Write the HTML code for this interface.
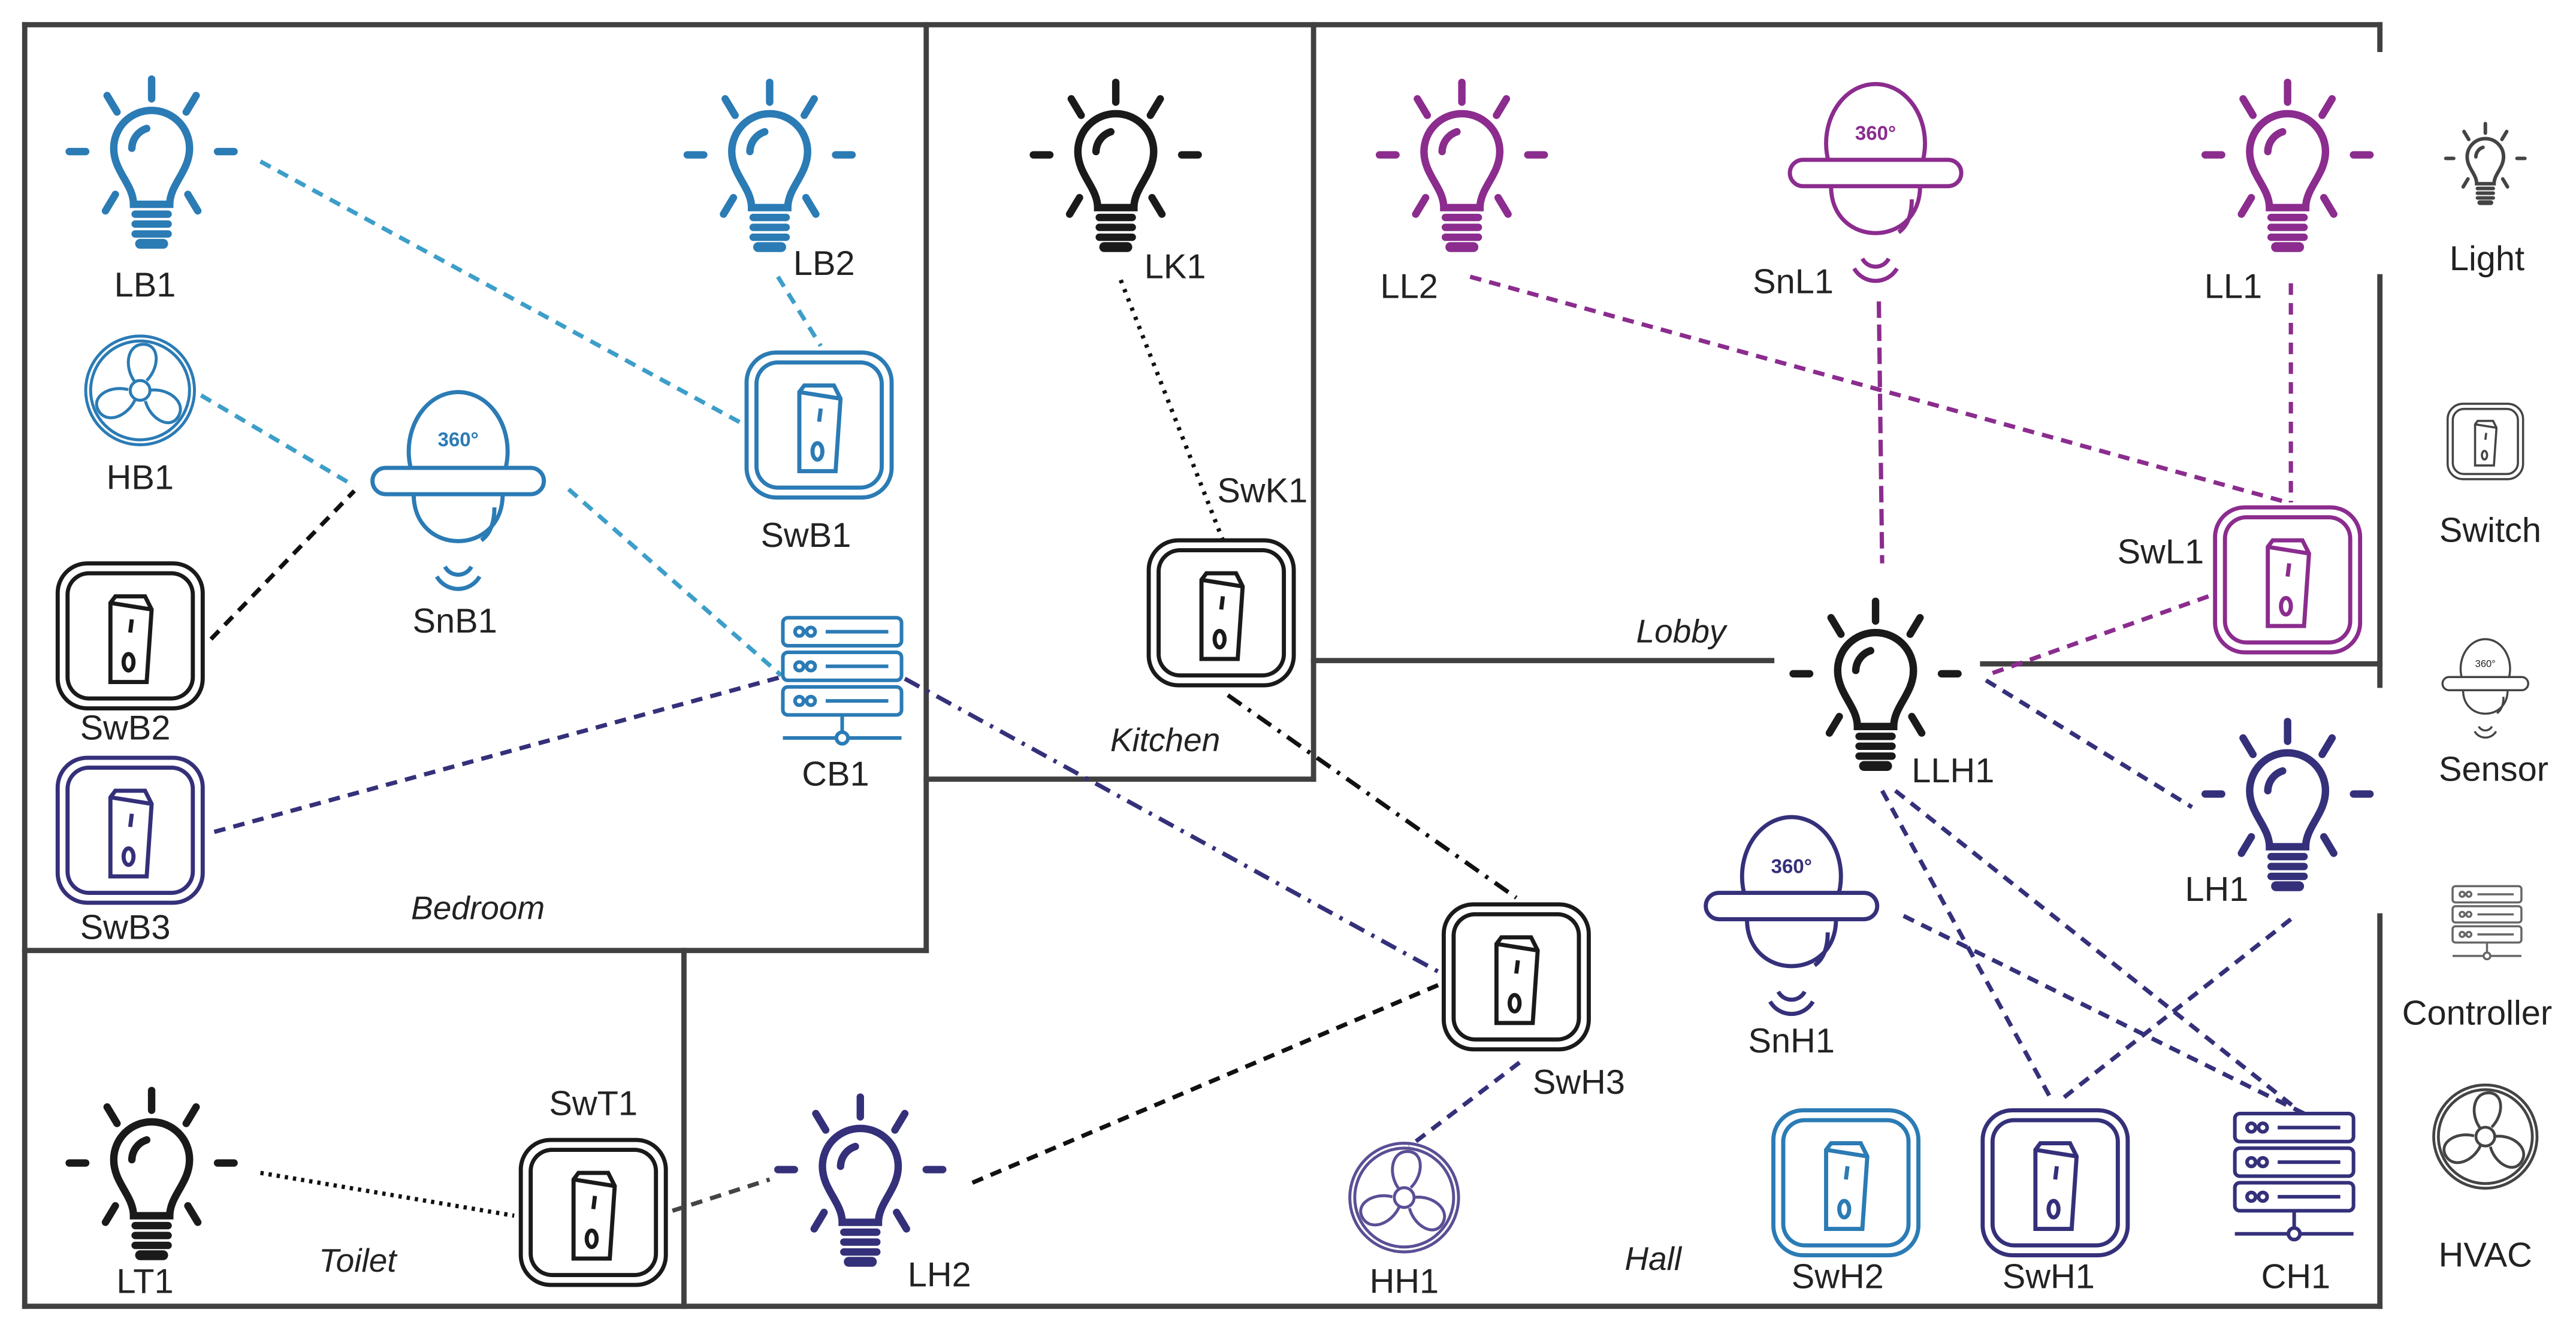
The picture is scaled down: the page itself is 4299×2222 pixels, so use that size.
<!DOCTYPE html>
<html><head><meta charset="utf-8"><style>
html,body{margin:0;padding:0;background:#fff;}
svg{display:block;}
text{font-family:"Liberation Sans",sans-serif;fill:#222;}
.lbl{font-size:21px;text-anchor:middle;}
.room{font-size:20px;font-style:italic;text-anchor:middle;}
</style></head><body>
<svg width="4299" height="2222" viewBox="0 0 1563 808" preserveAspectRatio="none" xmlns="http://www.w3.org/2000/svg">
<defs>
<g id="bulb" fill="none" stroke="currentColor" stroke-linecap="round" stroke-width="4.5">
<line x1="0" y1="-52" x2="0" y2="-40"/>
<line x1="-27" y1="-42" x2="-21" y2="-32"/>
<line x1="27" y1="-42" x2="21" y2="-32"/>
<line x1="-50" y1="-8" x2="-40" y2="-8"/>
<line x1="40" y1="-8" x2="50" y2="-8"/>
<line x1="-28" y1="28" x2="-22" y2="18"/>
<line x1="28" y1="28" x2="22" y2="18"/>
<path d="M-11 24 C-11 12,-23 4,-23 -10 A23 23 0 0 1 23 -10 C23 4,11 12,11 24 Z"/>
<path d="M-12 -10 A13 13 0 0 1 -3 -22"/>
<line x1="-10" y1="30" x2="10" y2="30"/>
<line x1="-10" y1="36" x2="10" y2="36"/>
<line x1="-10" y1="42" x2="10" y2="42"/>
<line x1="-7" y1="48" x2="7" y2="48" stroke-width="6"/>
</g>
<g id="switch" fill="none" stroke="currentColor" stroke-width="2.5">
<rect x="-44" y="-44" width="88" height="88" rx="18"/>
<rect x="-38" y="-38" width="76" height="76" rx="13"/>
<path d="M-12 -20 L-12 28 L10 28 L13 -16 L9 -24 L-9 -24 Z"/>
<line x1="-12" y1="-20" x2="13" y2="-16"/>
<line x1="1" y1="-10" x2="0" y2="-2"/>
<ellipse cx="-1" cy="16" rx="3" ry="5"/>
</g>
<g id="sensor" stroke="currentColor" stroke-width="2.5" fill="#fff">
<ellipse cx="0" cy="-18" rx="30" ry="36"/>
<path d="M-27 8 C-27 46,27 46,27 8"/>
<path d="M14 36 C20 32,22 24,22 16" fill="none"/>
<rect x="-52" y="-8" width="104" height="16" rx="8"/>
<path d="M-8 52 A9 9 0 0 0 8 52" fill="none"/>
<path d="M-13 58 A15 15 0 0 0 13 58" fill="none"/>
</g>
<g id="ctrl" fill="none" stroke="currentColor" stroke-width="2.2">
<rect x="-36" y="-38" width="72" height="17" rx="3"/>
<rect x="-36" y="-17" width="72" height="17" rx="3"/>
<rect x="-36" y="4" width="72" height="17" rx="3"/>
<circle cx="-26" cy="-29.5" r="2.6"/><circle cx="-19" cy="-29.5" r="2.6"/><line x1="-10" y1="-29.5" x2="28" y2="-29.5"/>
<circle cx="-26" cy="-8.5" r="2.6"/><circle cx="-19" cy="-8.5" r="2.6"/><line x1="-10" y1="-8.5" x2="28" y2="-8.5"/>
<circle cx="-26" cy="12.5" r="2.6"/><circle cx="-19" cy="12.5" r="2.6"/><line x1="-10" y1="12.5" x2="28" y2="12.5"/>
<line x1="0" y1="21" x2="0" y2="32"/>
<line x1="-36" y1="35" x2="36" y2="35"/>
<circle cx="0" cy="35" r="3.5" fill="#fff"/>
</g>
<g id="fan" fill="none" stroke="currentColor" stroke-width="1.8">
<circle r="33"/><circle r="30"/>
<g id="blade"><path d="M-3 -5 C-10 -14,-8 -28,2 -28 C12 -28,12 -14,4 -6"/></g>
<use href="#blade" transform="rotate(120)"/>
<use href="#blade" transform="rotate(240)"/>
<circle r="6" fill="#fff"/>
</g>
</defs>

<!-- walls -->
<g stroke="#404040" stroke-width="3.2" fill="none" stroke-linecap="square">
<line x1="15" y1="15" x2="1444" y2="15"/>
<line x1="15" y1="15" x2="15" y2="793"/>
<line x1="15" y1="793" x2="1444" y2="793"/>
<line x1="1444" y1="15" x2="1444" y2="30"/>
<line x1="1444" y1="168" x2="1444" y2="416"/>
<line x1="1444" y1="556" x2="1444" y2="793"/>
<line x1="562" y1="15" x2="562" y2="577"/>
<line x1="15" y1="577" x2="562" y2="577"/>
<line x1="797" y1="15" x2="797" y2="473"/>
<line x1="562" y1="473" x2="797" y2="473"/>
<line x1="415" y1="577" x2="415" y2="793"/>
<line x1="797" y1="401" x2="1075" y2="401"/>
<line x1="1203" y1="403" x2="1444" y2="403"/>
</g>

<!-- connectors -->
<g fill="none" stroke-width="2.6">
<g stroke="#3d9ec9" stroke-dasharray="7 5">
<line x1="158" y1="98" x2="452" y2="258"/>
<line x1="472" y1="168" x2="498" y2="210"/>
<line x1="122" y1="240" x2="215" y2="295"/>
<line x1="345" y1="297" x2="474" y2="410"/>
</g>
<line x1="128" y1="388" x2="215" y2="298" stroke="#111" stroke-dasharray="7 5"/>
<line x1="130" y1="505" x2="474" y2="411" stroke="#35307a" stroke-dasharray="7 5"/>
<line x1="549" y1="412" x2="873" y2="590" stroke="#35307a" stroke-dasharray="10 5 2 5"/>
<line x1="680" y1="170" x2="742" y2="328" stroke="#111" stroke-dasharray="2 4"/>
<line x1="745" y1="422" x2="920" y2="545" stroke="#111" stroke-dasharray="10 5 2 5"/>
<g stroke="#8b2c8e" stroke-dasharray="7 5">
<line x1="892" y1="168" x2="1388" y2="305"/>
<line x1="1390" y1="172" x2="1390" y2="305"/>
<line x1="1140" y1="183" x2="1142" y2="342" stroke-dasharray="10 4"/>
<line x1="1340" y1="362" x2="1205" y2="410"/>
</g>
<g stroke="#35307a" stroke-dasharray="7 5">
<line x1="1205" y1="413" x2="1330" y2="490"/>
<line x1="1142" y1="480" x2="1245" y2="668"/>
<line x1="1150" y1="480" x2="1392" y2="672"/>
<line x1="1155" y1="556" x2="1398" y2="676"/>
<line x1="1390" y1="558" x2="1250" y2="668"/>
<line x1="922" y1="645" x2="855" y2="696"/>
</g>
<line x1="590" y1="718" x2="875" y2="597" stroke="#111" stroke-dasharray="7 5"/>
<line x1="158" y1="712" x2="312" y2="738" stroke="#111" stroke-dasharray="2 3"/>
<line x1="408" y1="735" x2="467" y2="716" stroke="#444" stroke-dasharray="7 5"/>
</g>

<!-- room labels -->
<text class="room" x="1020" y="390">Lobby</text>
<text class="room" x="707" y="456">Kitchen</text>
<text class="room" x="290" y="558">Bedroom</text>
<text class="room" x="217" y="772">Toilet</text>
<text class="room" x="1003" y="771">Hall</text>

<!-- nodes -->
<use href="#bulb" style="color:#2b7bb5" transform="translate(92,100)"/>
<text class="lbl" x="88" y="180">LB1</text>
<use href="#bulb" style="color:#2b7bb5" transform="translate(467,102)"/>
<text class="lbl" x="500" y="167">LB2</text>
<use href="#bulb" style="color:#1a1a1a" transform="translate(677,102)"/>
<text class="lbl" x="713" y="169">LK1</text>
<use href="#bulb" style="color:#8b2c8e" transform="translate(887,102)"/>
<text class="lbl" x="855" y="181">LL2</text>
<use href="#sensor" style="color:#8b2c8e" transform="translate(1138,105)"/>
<text x="1138" y="85" font-size="12" font-weight="bold" text-anchor="middle" style="fill:#8b2c8e">360°</text>
<text class="lbl" x="1088" y="178">SnL1</text>
<use href="#bulb" style="color:#8b2c8e" transform="translate(1388,102)"/>
<text class="lbl" x="1355" y="181">LL1</text>

<use href="#fan" style="color:#2b7bb5" transform="translate(85,237)"/>
<text class="lbl" x="85" y="297">HB1</text>
<use href="#sensor" style="color:#2b7bb5" transform="translate(278,292)"/>
<text x="278" y="271" font-size="12" font-weight="bold" text-anchor="middle" style="fill:#2b7bb5">360°</text>
<text class="lbl" x="276" y="384">SnB1</text>
<use href="#switch" style="color:#2b7bb5" transform="translate(497,258)"/>
<text class="lbl" x="489" y="332">SwB1</text>
<use href="#switch" style="color:#1a1a1a" transform="translate(79,386)"/>
<text class="lbl" x="76" y="449">SwB2</text>
<use href="#switch" style="color:#35307a" transform="translate(79,504)"/>
<text class="lbl" x="76" y="570">SwB3</text>
<use href="#ctrl" style="color:#2b7bb5" transform="translate(511,413)"/>
<text class="lbl" x="507" y="477">CB1</text>
<use href="#switch" style="color:#1a1a1a" transform="translate(741,372)"/>
<text class="lbl" x="766" y="305">SwK1</text>

<use href="#bulb" style="color:#1a1a1a" transform="translate(1138,417)"/>
<text class="lbl" x="1185" y="475">LLH1</text>
<use href="#switch" style="color:#8b2c8e" transform="translate(1388,352)"/>
<text class="lbl" x="1311" y="342">SwL1</text>
<use href="#bulb" style="color:#35307a" transform="translate(1388,490)"/>
<text class="lbl" x="1345" y="547">LH1</text>
<use href="#sensor" style="color:#35307a" transform="translate(1087,550)"/>
<text x="1087" y="530" font-size="12" font-weight="bold" text-anchor="middle" style="fill:#35307a">360°</text>
<text class="lbl" x="1087" y="639">SnH1</text>
<use href="#switch" style="color:#1a1a1a" transform="translate(920,593)"/>
<text class="lbl" x="958" y="664">SwH3</text>
<use href="#fan" style="color:#5a4f95" transform="translate(852,727)"/>
<text class="lbl" x="852" y="785">HH1</text>
<use href="#switch" style="color:#2b7bb5" transform="translate(1120,718)"/>
<text class="lbl" x="1115" y="782">SwH2</text>
<use href="#switch" style="color:#35307a" transform="translate(1247,718)"/>
<text class="lbl" x="1243" y="782">SwH1</text>
<use href="#ctrl" style="color:#35307a" transform="translate(1392,714)"/>
<text class="lbl" x="1393" y="782">CH1</text>

<use href="#bulb" style="color:#1a1a1a" transform="translate(92,714)"/>
<text class="lbl" x="88" y="785">LT1</text>
<use href="#switch" style="color:#1a1a1a" transform="translate(360,736)"/>
<text class="lbl" x="360" y="677">SwT1</text>
<use href="#bulb" style="color:#35307a" transform="translate(522,718)"/>
<text class="lbl" x="570" y="781">LH2</text>

<!-- legend -->
<use href="#bulb" style="color:#444" transform="translate(1508,100) scale(0.48)"/>
<text class="lbl" x="1509" y="164">Light</text>
<use href="#switch" style="color:#444" transform="translate(1508,268) scale(0.52)"/>
<text class="lbl" x="1511" y="329">Switch</text>
<use href="#sensor" style="color:#444" transform="translate(1508,415) scale(0.5)"/>
<text x="1508" y="405" font-size="6" text-anchor="middle">360°</text>
<text class="lbl" x="1513" y="474">Sensor</text>
<use href="#ctrl" style="color:#666" transform="translate(1509,560) scale(0.58)"/>
<text class="lbl" x="1503" y="622">Controller</text>
<use href="#fan" style="color:#444" transform="translate(1508,690) scale(0.95)"/>
<text class="lbl" x="1508" y="769">HVAC</text>
</svg>
</body></html>
